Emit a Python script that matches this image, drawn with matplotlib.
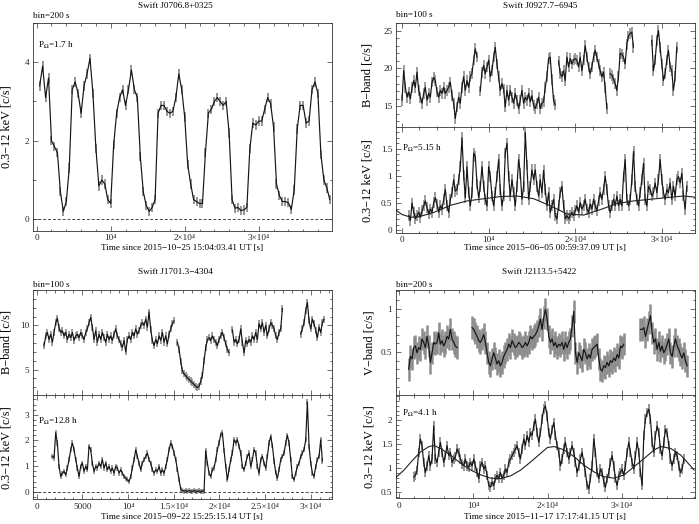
import numpy as np
import matplotlib
matplotlib.use('Agg')
import matplotlib.pyplot as plt
from matplotlib.ticker import MultipleLocator, FixedLocator, FuncFormatter

nan = np.nan

# ---------------- data ----------------
# Swift J0706.8+0325 (0.3-12 keV)
j0706_t0, j0706_dt = 400.0, 400.0
j0706_rate = [3.4, 3.9, 3.1, 3.6, 2.0, 1.85, 1.7, 0.7, 0.2, 0.45,
              1.3, 3.3, 3.5, 3.2, 2.7, 3.4, 3.7, 4.1, 3.2, 1.8,
              0.85, 1.0, 0.9, 0.5, 0.4, 1.9, 2.7, 3.1, 3.3, 2.9,
              3.3, 3.8, 3.3, 3.1, 1.6, 0.7, 0.35, 0.2, 0.3, 0.5,
              2.7, 2.9, 2.9, 2.75, 2.7, 2.75, 3.1, 3.7, 3.3, 2.6,
              1.4, 0.9, 0.5, 0.45, 0.4, 0.4, 1.7, 2.7, 2.8, 3.0,
              3.1, 3.0, 2.9, 3.0, 2.2, 0.5, 0.28, 0.3, 0.22, 0.24,
              0.3, 1.8, 2.45, 2.4, 2.5, 2.5, 2.8, 3.1, 2.95, 2.35,
              0.9, 0.6, 0.45, 0.45, 0.42, 0.25, 0.75, 2.3, 2.9, 2.9,
              2.45, 2.5, 3.3, 3.5, 3.2, 1.65, 1.0, 0.8, 0.5]
j0706_err = 0.12

# Swift J0927.7-6945
j0927_b_t0, j0927_b_dt = 0.0, 192.3
j0927_b = [15.8, 19.7, 17.5, 16.2, 16.9, 16.0, 17.5, 18.4, 17.5, 19.5,
           17.1, 16.2, 15.4, 16.7, 17.5, 15.8, 16.7, 16.2, 18.2, 18.8,
           18.4, 16.9, 16.2, 17.1, 16.7, 17.5, 16.7, 17.1, 17.5, 18.2,
           16.4, 15.4, 13.4, 14.9, 16.2, 15.4, 17.5, 18.9, 17.1, 18.4,
           17.5, 18.9, 19.3, 21.1, 22.6, 21.5, nan, 17.0, 19.5, 20.4,
           19.3, 20.2, 21.1, 18.9, 19.7, 21.5, 22.8, 20.6, 18.9, 17.1,
           18.0, 17.3, 14.9, 17.1, 15.8, 17.1, 16.2, 15.4, 16.7, 15.8,
           14.7, 15.8, 17.1, 15.4, 16.2, 15.8, 16.7, 15.6, 16.4, 15.1,
           14.7, 15.4, 16.2, 14.7, 15.4, 15.6, 17.5, 18.9, 21.3, 21.5,
           18.5, 15.8, 15.2, nan, 21.0, 19.3, 18.9, 19.7, 18.4, 21.5,
           20.2, 21.3, 20.6, 21.1, 21.3, 21.1, 20.2, 21.5, 19.7, 21.1,
           23.0, 21.5, 20.2, 19.3, 20.2, 21.5, 22.4, 21.5, 20.6, 19.7,
           18.9, 19.5, 17.5, 14.7, nan, 19.3, 19.1, 18.6, 18.0, 17.1,
           18.9, 22.0, 21.9, 21.5, 20.6, 23.2, 24.3, 24.6, 24.8, 22.8,
           nan, nan, nan, nan, nan, nan, nan, nan, nan, nan,
           23.7, 19.7, 21.1, 23.7, 25.0, 22.8, 20.6, 18.4, 19.3, 21.1,
           22.4, 20.2, 19.7, 17.1, 18.9, 22.8]
j0927_b_err = 0.7
j0927_x_t0, j0927_x_dt = 773.0, 192.3
j0927_x = [0.27, 0.18, 0.50, 0.33, 0.21, 0.27, 0.33, 0.24, 0.36, 0.45,
           0.54, 0.42, 0.30, 0.39, 0.33, 0.51, 0.60, 0.48, 0.33, 0.45,
           0.39, 0.57, 0.75, 0.45, 0.33, 0.57, 0.69, 0.93, 0.72, 0.75,
           0.93, 1.17, 1.70, 1.0, 0.6, 1.17, 0.69, 0.45, 0.69, 1.42,
           1.35, 0.85, 0.6, 0.8, 1.17, 0.81, 0.57, 0.45, 1.17, 0.99,
           0.63, 0.45, 0.69, 0.99, 1.30, 0.75, 0.45, 0.63, 1.42, 1.60,
           0.99, 0.63, 0.93, 0.69, 0.45, 0.81, 1.30, 1.05, 0.57, 0.81,
           1.80, 1.2, 0.57, 0.81, 1.11, 0.93, 1.11, 0.81, 0.63, 0.93,
           0.69, 1.1, 0.75, 0.45, 0.69, 0.33, 0.45, 0.57, 0.27, 0.21,
           0.45, 0.69, 0.81, 0.45, 0.21, 0.27, 0.21, 0.27, 0.33, 0.27,
           0.36, 0.45, 0.33, 0.51, 0.39, 0.45, 0.57, 0.39, 0.33, 0.48,
           0.39, 0.57, 0.45, 0.36, 0.54, 0.69, 0.57, 0.75, 0.99, 0.75,
           0.45, 0.33, 0.45, 0.57, 0.45, 0.63, 0.45, 0.57, 0.45, 0.99,
           1.3, 0.57, 0.45, 0.57, 0.93, 1.45, 0.8, 0.57, 0.45, 0.69,
           0.93, 1.23, 0.57, 0.45, 0.81, 0.75, 0.63, 0.69, 0.87, 0.69,
           0.93, 1.30, 0.93, 0.69, 0.57, 0.75, 0.69, 0.87, 0.57, 0.81,
           0.63, 0.93, 0.99, 0.87, 1.05, 0.63, 0.39, 0.81]
j0927_x_err = 0.1
j0927_fit_t = [-730, -535, 0, 1000, 2000, 3690, 5610, 7530, 9450, 11370, 13290,
               15210, 17130, 19060, 20980, 22900, 24820, 26740, 28660, 30580, 32500, 33800]
j0927_fit_v = [0.38, 0.35, 0.29, 0.24, 0.25, 0.33, 0.46, 0.54, 0.58, 0.62, 0.63,
               0.58, 0.45, 0.30, 0.28, 0.38, 0.49, 0.54, 0.57, 0.60, 0.63, 0.61]

# Swift J1701.3-4304
j1701_b_t0, j1701_b_dt = 803.0, 182.5
j1701_b = [7.7, 8.8, 9.2, 8.4, 9.0, 8.1, 9.2, 10.3, 10.8, 9.7,
           9.2, 9.4, 8.8, 9.2, 8.4, 9.0, 8.6, 9.2, 8.3, 8.8,
           9.0, 8.6, 9.2, 8.8, 8.4, 9.2, 9.6, 10.3, 10.9, 9.8,
           8.4, 9.4, 8.1, 9.0, 8.4, 9.2, 8.6, 8.1, 9.0, 8.4,
           8.8, 8.3, 9.0, 9.6, 8.8, 8.4, 7.9, 7.5, 8.3, 7.0,
           8.4, 8.8, 8.4, 9.2, 8.8, 9.6, 9.0, 9.4, 10.0, 10.3,
           10.0, 10.7, 9.8, 11.5, 9.5, 8.3, 7.7, 8.4, 7.9, 8.8,
           8.3, 9.2, 8.1, 8.8, 7.9, 9.0, 9.6, 10.2, 10.5, nan,
           8.1, 7.3, 5.9, 4.85, 4.5, 4.3, 4.05, 3.9, 3.7, 3.5,
           3.3, 3.1, 2.95, 3.1, 3.7, 4.3, 6.0, 7.5, 8.4, 8.6,
           8.3, 8.8, 8.4, 8.1, 7.7, 8.4, 8.8, 9.2, 8.6, 7.9,
           7.3, 6.9, nan, 9.5, 8.1, 8.4, 7.9, 8.4, 9.6, 8.1,
           6.9, 8.3, 7.9, 8.4, 8.1, 8.8, 8.4, 9.2, 8.4, 10.2,
           9.6, 10.3, 9.2, 10.0, 8.8, 9.6, 10.3, 10.0, 9.6, 8.8,
           8.4, 9.2, 9.6, 11.9,
           nan, nan, nan, nan, nan, nan, nan, nan, nan, nan,
           9.0, 9.6, 10.3, 11.7, 12.6, 10.5, 9.6, 10.7, 10.2, 9.4,
           8.6, 9.8, 9.2, 10.3, 10.7]
j1701_b_err = 0.4
j1701_x_t0, j1701_x_dt = 1715.0, 182.5
j1701_x = [1.38, 1.32, 2.3, 1.9, 0.99, 0.6, 0.73, 0.8, 0.66, 0.93,
           1.25, 1.64, 1.9, 1.64, 1.25, 0.93, 0.6, 0.99, 1.12, 0.8,
           0.99, 0.86, 1.77, 1.64, 1.12, 0.8, 0.99, 0.93, 1.12, 0.99,
           1.25, 0.93, 1.12, 0.86, 0.99, 0.8, 0.93, 0.73, 0.99, 0.93,
           0.73, 0.86, 0.73, 0.6, 0.53, 0.47, 0.4, 0.6, 0.93, 1.25,
           1.64, 1.38, 1.12, 0.86, 1.12, 1.25, 1.38, 1.51, 1.25, 1.12,
           0.86, 0.73, 0.86, 0.8, 0.99, 0.73, 0.86, 0.73, 0.99, 1.25,
           1.64, 1.9, 1.77, 1.51, 1.25, 0.86, 0.47, 0.1, 0.04, 0.03,
           0.05, 0.02, 0.04, 0.03, 0.02, 0.05, 0.03, 0.02, 0.04, 0.01,
           0.03, 0.02, 1.6, 1.12, 0.73, 0.6, 0.86, 0.93, 1.25, 1.64,
           1.9, 2.23, 2.3, 1.6, 1.0, 0.47, 0.86, 1.25, 1.51, 2.03,
           1.9, 2.03, 1.77, 1.51, 0.99, 0.86, 1.12, 1.38, 1.51, 0.99,
           1.25, 1.64, 1.51, 0.99, 0.73, 1.25, 1.38, 1.12, 0.93, 1.38,
           1.9, 2.16, 1.8, 1.2, 0.75, 0.53, 0.86, 1.25, 1.38, 1.51,
           1.9, 2.2, 1.9, 1.25, 0.6, 0.47, 0.73, 0.99, 1.12, 1.38,
           1.51, 1.64, 2.03, 3.5, 1.77, 1.12, 0.73, 0.6, 0.99, 1.25,
           1.38, 2.03, 1.2]
j1701_x_err = 0.1

# Swift J2113.5+5422
j2113_v_t0, j2113_v_dt = 1279.0, 224.4
j2113_v = [0.30, 0.45, 0.42, 0.55, 0.57, 0.49, 0.55, 0.53, 0.65, 0.61,
           0.55, 0.68, 0.57, 0.38, 0.49, 0.61, 0.59, 0.61, 0.72, 0.59,
           0.63, 0.57, 0.61, 0.68, 0.65, 0.76, 0.65, 0.61, 0.57, 0.55,
           nan, nan, nan, nan, nan, nan, nan, nan,
           0.78, 0.76, 0.72, 0.68, 0.63, 0.61, 0.65, 0.70, 0.61, 0.49,
           0.38, 0.34, 0.42, 0.49, 0.43, 0.36, 0.40, 0.34, 0.38, 0.45,
           0.49, 0.53, 0.59, 0.55, 0.63, 0.59, 0.55, 0.57, 0.61, 0.59,
           0.55, 0.57, 0.61, 0.57, 0.61, 0.68, 0.65, 0.68, 0.70, 0.74,
           0.80, 0.88, 0.76, 0.90, 0.99, 0.88, 0.68, 0.61, 0.65, 0.57,
           0.61, 0.55, 0.59, 0.57, 0.61, 0.53, 0.61, 0.55, 0.61, 0.65,
           0.80, 0.97, 0.49, 0.38, 0.49, 0.45, 0.40, 0.53, 0.49, 0.42,
           0.47, 0.43, 0.53, 0.55, 0.57, 0.59, 0.42, 0.30, 0.28, 0.34,
           0.32, 0.38, 0.34, 0.40, 0.38, 0.43, 0.40, 0.47, 0.43, 0.57,
           0.55, 0.59,
           nan, nan, nan, nan, nan, nan, nan, nan, nan,
           0.76, 0.76, 0.78, 0.68, 0.76, 0.84, 0.92, 0.72, 0.61, 0.65,
           0.53, 0.61, 0.51, 0.57, 0.49, 0.53, 0.59, 0.65, 0.49, 0.45,
           0.57, 0.65, 0.57, 0.53, 0.47, 0.43, 0.49, 0.40, 0.34]
j2113_v_err = 0.13
j2113_x_t0, j2113_x_dt = 1952.0, 224.4
j2113_x = [0.81, 0.85, 0.95, 1.33, 1.61, 1.47, 1.12, 0.91, 1.05, 1.26,
           1.05, 1.19, 1.88, 1.19, 1.12, 1.33, 1.54, 1.33, 1.12, 1.26,
           1.47, 1.26, 1.33, 1.12, 1.19, 1.23, 1.40, 1.33, 1.19, 1.09,
           1.05, 1.19, 1.05, 1.02, 1.12, 1.05, 1.19, 1.05, 0.91, 0.78,
           1.05, 1.12, 0.98, 1.05, 0.85, 0.64, 0.60, 0.71, 0.64, 0.78,
           0.85, 0.78, 0.91, 0.78, 0.85, 0.98, 0.91, 1.12, 1.19, 1.26,
           1.33, 1.40, 1.47, 1.33, 1.19, 1.40, 1.61, 1.47, 1.68, 1.54,
           1.74, 1.68, 1.88, 2.02, 1.74, 1.54, 1.74, 2.02, 2.23, 2.30,
           2.09, 1.74, 1.61, 1.81, 1.95, 1.68, 1.47, 1.33, 1.05, 1.19,
           1.40, 1.54, 1.33, 1.19, 1.33, 1.47, 1.33, 1.12, 0.91, 1.05,
           1.19, 1.33, 1.12, 0.91, 0.64, 0.57, 0.78, 1.05, 1.61, 1.33,
           0.91, 0.78, 0.98, 0.91, 0.71, 0.60, 0.78, 0.91, 1.12, 1.26,
           1.05, 0.78, 0.64, 0.85, 0.91, 0.98, 0.85, 1.05, 1.33, 1.54,
           1.33, 1.12, 0.98, 1.26, 1.54, 1.33, 0.91, 0.64, 1.68, 2.02,
           2.16, 2.23, 2.02, 1.54, 1.33, 1.68, 1.88, 1.74, 1.40, 1.26,
           1.54, 1.81, 1.74, 1.47, 1.19, 1.05, 1.19, 1.33, 1.26, 1.05,
           0.91, 0.98, 1.19]
j2113_x_err = 0.1
j2113_fit_t = [-470, 650, 1770, 2890, 4010, 4690, 5590, 6930, 8280, 9620, 10970,
               12320, 13660, 15010, 16360, 17700, 19050, 19950, 20850, 22190, 23540,
               24880, 26230, 27580, 28920, 30270, 31610, 32960, 34310, 35210, 36550,
               37900, 39700]
j2113_fit_v = [0.80, 0.96, 1.16, 1.34, 1.45, 1.47, 1.41, 1.27, 1.10, 0.96, 0.86,
               0.79, 0.78, 0.84, 0.96, 1.13, 1.31, 1.43, 1.45, 1.38, 1.24,
               1.06, 0.92, 0.82, 0.79, 0.86, 1.03, 1.20, 1.38, 1.45, 1.41,
               1.27, 0.96]

# ---------------- style ----------------
plt.rcParams['font.family'] = ['Liberation Serif', 'DejaVu Serif']
plt.rcParams['mathtext.fontset'] = 'stix'
FS = 6.6
YFS = 8.8
plt.rcParams['font.size'] = FS
plt.rcParams['axes.linewidth'] = 0.6

W, H = 699.0, 524.0
fig = plt.figure(figsize=(W / 100, H / 100), dpi=100)


def add_ax(l, t, r, b):
    return fig.add_axes([l / W, 1 - b / H, (r - l) / W, (b - t) / H])


def sci_label(x, pos):
    if abs(x) < 1e-9:
        return '0'
    if abs(x - 5000) < 1e-6:
        return '5000'
    m = x / 1e4
    if abs(m - 1) < 1e-9:
        return '10\u2074'
    return '%g\u00d710\u2074' % m


def gfmt(x, pos):
    return '%g' % x


def style(ax, xticks, xminor, ymaj, ymin, xlim, ylim, yticks=None, showx=True):
    ax.set_xlim(*xlim)
    ax.set_ylim(*ylim)
    ax.xaxis.set_major_locator(FixedLocator(xticks))
    ax.xaxis.set_minor_locator(MultipleLocator(xminor))
    if yticks is not None:
        ax.yaxis.set_major_locator(FixedLocator(yticks))
    else:
        ax.yaxis.set_major_locator(MultipleLocator(ymaj))
    ax.yaxis.set_minor_locator(MultipleLocator(ymin))
    ax.xaxis.set_major_formatter(FuncFormatter(sci_label))
    ax.yaxis.set_major_formatter(FuncFormatter(gfmt))
    ax.tick_params(which='both', direction='in', top=True, right=True,
                   width=0.5, labelsize=FS, pad=2.5, colors='#333333',
                   labelcolor='#222222')
    ax.tick_params(which='major', length=3.5)
    ax.tick_params(which='minor', length=1.8)
    if not showx:
        ax.tick_params(labelbottom=False)
    for s in ax.spines.values():
        s.set_color('#333333')


def lc(ax, t0, dt, vals, err, ew=1.0):
    v = np.array(vals, dtype=float)
    t = t0 + dt * np.arange(len(v))
    ax.errorbar(t, v, yerr=err, fmt='none', ecolor='#8c8c8c', elinewidth=ew,
                capsize=0, zorder=2)
    ax.plot(t, v, color='#151515', lw=0.85, zorder=3)


def ylabel(ax, text, x):
    ax.set_ylabel(text, fontsize=YFS)
    ax.yaxis.set_label_coords(x, 0.5)


ylab = '0.3\u221212 keV [c/s]'
big = [0, 1e4, 2e4, 3e4]

# ---- top left ----
ax = add_ax(32.7, 23, 331.7, 231)
lc(ax, j0706_t0, j0706_dt, j0706_rate, j0706_err, ew=1.3)
ax.axhline(0, ls=(0, (3, 2)), color='#444444', lw=0.7)
style(ax, big, 2000, 2, 1, (-540, 39860), (-0.3, 5.0))
ylabel(ax, ylab, -0.067)
ax.set_xlabel('Time since 2015\u221210\u221225 15:04:03.41 UT [s]')
ax.xaxis.set_label_coords(0.5, -0.062)
ax.text(0.018, 0.88, r'P$_\Omega$=1.7 h', transform=ax.transAxes, fontsize=FS)
fig.text(175 / W, 1 - 6 / H, 'Swift J0706.8+0325', ha='center', va='center', fontsize=FS)
fig.text(32.7 / W, 1 - 16 / H, 'bin=200 s', ha='left', va='center', fontsize=FS)

# ---- top right ----
ax = add_ax(395.7, 23, 694.7, 127.5)
lc(ax, j0927_b_t0, j0927_b_dt, j0927_b, j0927_b_err, ew=1.2)
style(ax, big, 2000, 5, 1, (-730, 33800), (12.2, 26.0), showx=False)
ylabel(ax, 'B\u2212band [c/s]', -0.073)
fig.text(540 / W, 1 - 6 / H, 'Swift J0927.7\u22126945', ha='center', va='center', fontsize=FS)
fig.text(395.7 / W, 1 - 15 / H, 'bin=100 s', ha='left', va='center', fontsize=FS)

ax = add_ax(395.7, 127.5, 694.7, 233)
lc(ax, j0927_x_t0, j0927_x_dt, j0927_x, j0927_x_err, ew=1.2)
ax.plot(j0927_fit_t, j0927_fit_v, color='#222222', lw=0.8, zorder=4)
style(ax, big, 2000, 0.5, 0.1, (-730, 33800), (-0.05, 1.89), yticks=[0, 0.5, 1, 1.5])
ylabel(ax, ylab, -0.073)
ax.set_xlabel('Time since 2015\u221206\u221205 00:59:37.09 UT [s]')
ax.xaxis.set_label_coords(0.5, -0.10)
ax.text(0.02, 0.78, r'P$_\Omega$=5.15 h', transform=ax.transAxes, fontsize=FS)

# ---- bottom left ----
blt = [0, 5000, 1e4, 1.5e4, 2e4, 2.5e4, 3e4]
ax = add_ax(32.7, 290, 331.7, 395)
lc(ax, j1701_b_t0, j1701_b_dt, j1701_b, j1701_b_err, ew=1.2)
style(ax, blt, 1000, 5, 1, (-440, 32300), (2.12, 14.0), yticks=[5, 10], showx=False)
ylabel(ax, 'B\u2212band [c/s]', -0.068)
fig.text(175 / W, 1 - 272 / H, 'Swift J1701.3\u22124304', ha='center', va='center', fontsize=FS)
fig.text(32.7 / W, 1 - 284.7 / H, 'bin=100 s', ha='left', va='center', fontsize=FS)

ax = add_ax(32.7, 395, 331.7, 499.3)
lc(ax, j1701_x_t0, j1701_x_dt, j1701_x, j1701_x_err, ew=1.2)
ax.axhline(0, ls=(0, (3, 2)), color='#444444', lw=0.7)
style(ax, blt, 1000, 1, 0.2, (-440, 32300), (-0.29, 3.77), yticks=[0, 1, 2, 3])
ylabel(ax, ylab, -0.068)
ax.set_xlabel('Time since 2015\u221209\u221222 15:25:15.14 UT [s]')
ax.xaxis.set_label_coords(0.5, -0.127)
ax.text(0.018, 0.72, r'P$_\Omega$=12.8 h', transform=ax.transAxes, fontsize=FS)

# ---- bottom right ----
ax = add_ax(395.7, 290, 694.7, 395.3)
lc(ax, j2113_v_t0, j2113_v_dt, j2113_v, j2113_v_err, ew=1.8)
style(ax, big, 2000, 0.5, 0.1, (-470, 39770), (0.0, 1.215), yticks=[0.5, 1], showx=False)
ylabel(ax, 'V\u2212band [c/s]', -0.066)
fig.text(539 / W, 1 - 272 / H, 'Swift J2113.5+5422', ha='center', va='center', fontsize=FS)
fig.text(395.7 / W, 1 - 284.7 / H, 'bin=200 s', ha='left', va='center', fontsize=FS)

ax = add_ax(395.7, 395.3, 694.7, 498.3)
lc(ax, j2113_x_t0, j2113_x_dt, j2113_x, j2113_x_err, ew=1.3)
ax.plot(j2113_fit_t, j2113_fit_v, color='#222222', lw=0.8, zorder=4)
style(ax, big, 2000, 0.5, 0.1, (-470, 39770), (0.37, 2.52), yticks=[0.5, 1, 1.5, 2])
ylabel(ax, ylab, -0.066)
ax.set_xlabel('Time since 2015\u221211\u221217 17:17:41.15 UT [s]')
ax.xaxis.set_label_coords(0.5, -0.138)
ax.text(0.02, 0.80, r'P$_\Omega$=4.1 h', transform=ax.transAxes, fontsize=FS)

fig.savefig('out.png', dpi=100)
